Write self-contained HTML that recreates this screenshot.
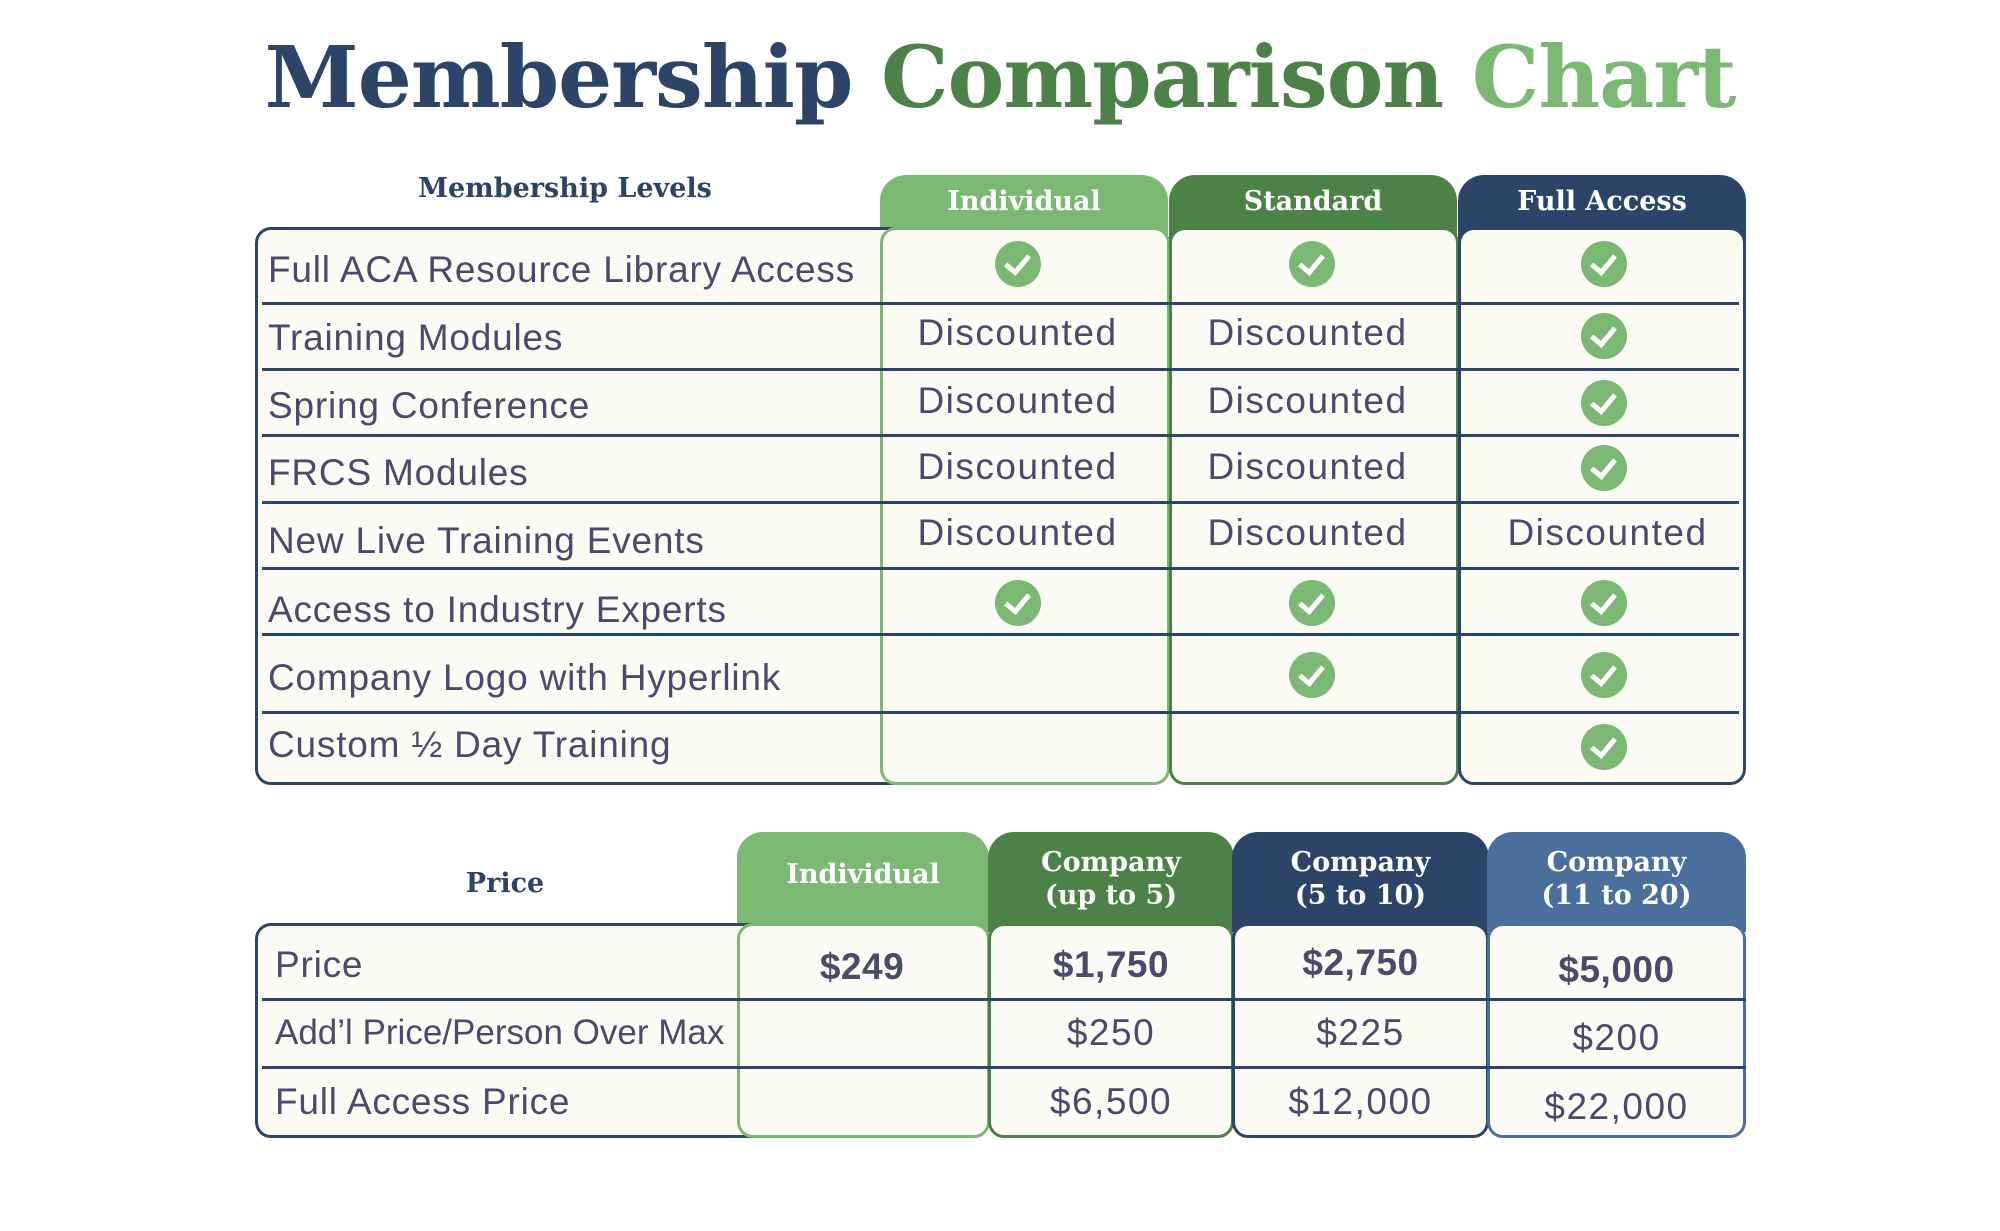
<!DOCTYPE html>
<html><head><meta charset="utf-8"><style>
*{margin:0;padding:0;box-sizing:border-box}
body{width:2000px;height:1231px;background:#fff;position:relative;overflow:hidden;font-family:"Liberation Sans",sans-serif}
.a{position:absolute}
.t{font-family:"DejaVu Serif","Liberation Serif",serif;font-weight:bold}
.h{color:#fff;font-size:27px;text-align:center;font-family:"DejaVu Serif",serif;font-weight:bold;line-height:33px}
.lab{color:#4a4a6a;font-size:37px;left:268px;letter-spacing:0.8px;white-space:nowrap}
.c{color:#4a4a6a;font-size:37px;text-align:center;letter-spacing:1.5px}
.ln{position:absolute;height:3px;background:#2b4468}
.chk{position:absolute;width:46px;height:46px;border-radius:50%;background:#7bb874}
.chk:after{content:"";position:absolute;left:15px;top:9px;width:10px;height:19px;border-right:5px solid #fff;border-bottom:5px solid #fff;transform:rotate(40deg)}
.box{position:absolute;border:3px solid;background:#fcfaf5;border-radius:16px}
.tab{position:absolute;border-radius:26px 26px 0 0}
</style></head><body>
<div class="a t" style="left:0;width:2000px;top:28px;text-align:center;font-size:85px;letter-spacing:-1px;white-space:nowrap"><span style="color:#2b4468">Membership</span> <span style="color:#4c8147">Comparison</span> <span style="color:#7bb874">Chart</span></div>

<!-- table 1 -->
<div class="a t" style="left:330px;width:470px;top:173px;text-align:center;font-size:27px;color:#2b4468">Membership Levels</div>
<div class="tab" style="left:880px;top:175px;width:288px;height:70px;background:#7bb874"></div>
<div class="tab" style="left:1169px;top:175px;width:288px;height:70px;background:#4c8147"></div>
<div class="tab" style="left:1458px;top:175px;width:288px;height:70px;background:#2b4468"></div>
<div class="a h" style="left:880px;width:288px;top:185px">Individual</div>
<div class="a h" style="left:1169px;width:288px;top:185px">Standard</div>
<div class="a h" style="left:1458px;width:288px;top:185px">Full Access</div>
<div class="box" style="left:255px;top:227px;width:700px;height:558px;border-color:#2b4468"></div>
<div class="box" style="left:880px;top:227px;width:290px;height:558px;border-color:#7bb874"></div>
<div class="box" style="left:1169px;top:227px;width:290px;height:558px;border-color:#4c8147"></div>
<div class="box" style="left:1458px;top:227px;width:288px;height:558px;border-color:#2b4468"></div>
<div class="ln" style="left:262px;width:1477px;top:302px"></div>
<div class="ln" style="left:262px;width:1477px;top:368px"></div>
<div class="ln" style="left:262px;width:1477px;top:434px"></div>
<div class="ln" style="left:262px;width:1477px;top:501px"></div>
<div class="ln" style="left:262px;width:1477px;top:567px"></div>
<div class="ln" style="left:262px;width:1477px;top:633px"></div>
<div class="ln" style="left:262px;width:1477px;top:711px"></div>
<div class="a lab" style="top:249px">Full ACA Resource Library Access</div>
<div class="a lab" style="top:317px">Training Modules</div>
<div class="a lab" style="top:385px">Spring Conference</div>
<div class="a lab" style="top:452px">FRCS Modules</div>
<div class="a lab" style="top:520px">New Live Training Events</div>
<div class="a lab" style="top:589px">Access to Industry Experts</div>
<div class="a lab" style="top:657px">Company Logo with Hyperlink</div>
<div class="a lab" style="top:724px">Custom ½ Day Training</div>
<div class="chk" style="left:995px;top:241px"></div>
<div class="chk" style="left:1289px;top:241px"></div>
<div class="chk" style="left:1581px;top:241px"></div>
<div class="chk" style="left:1581px;top:313px"></div>
<div class="chk" style="left:1581px;top:380px"></div>
<div class="chk" style="left:1581px;top:445px"></div>
<div class="chk" style="left:995px;top:580px"></div>
<div class="chk" style="left:1289px;top:580px"></div>
<div class="chk" style="left:1581px;top:580px"></div>
<div class="chk" style="left:1289px;top:652px"></div>
<div class="chk" style="left:1581px;top:652px"></div>
<div class="chk" style="left:1581px;top:724px"></div>
<div class="a c" style="left:870px;width:295px;top:312px">Discounted</div>
<div class="a c" style="left:1160px;width:295px;top:312px">Discounted</div>
<div class="a c" style="left:870px;width:295px;top:380px">Discounted</div>
<div class="a c" style="left:1160px;width:295px;top:380px">Discounted</div>
<div class="a c" style="left:870px;width:295px;top:446px">Discounted</div>
<div class="a c" style="left:1160px;width:295px;top:446px">Discounted</div>
<div class="a c" style="left:870px;width:295px;top:512px">Discounted</div>
<div class="a c" style="left:1160px;width:295px;top:512px">Discounted</div>
<div class="a c" style="left:1460px;width:295px;top:512px">Discounted</div>

<!-- table 2 -->
<div class="a t" style="left:255px;width:500px;top:868px;text-align:center;font-size:27px;color:#2b4468">Price</div>
<div class="tab" style="left:737px;top:832px;width:252px;height:100px;background:#7bb874"></div>
<div class="tab" style="left:988px;top:832px;width:246px;height:100px;background:#4c8147"></div>
<div class="tab" style="left:1232px;top:832px;width:257px;height:100px;background:#2b4468"></div>
<div class="tab" style="left:1487px;top:832px;width:259px;height:100px;background:#4b6f9c"></div>
<div class="a h" style="left:737px;width:252px;top:858px">Individual</div>
<div class="a h" style="left:988px;width:246px;top:846px">Company<br>(up to 5)</div>
<div class="a h" style="left:1232px;width:257px;top:846px">Company<br>(5 to 10)</div>
<div class="a h" style="left:1487px;width:259px;top:846px">Company<br>(11 to 20)</div>
<div class="box" style="left:255px;top:923px;width:560px;height:215px;border-color:#2b4468"></div>
<div class="box" style="left:737px;top:923px;width:253px;height:215px;border-color:#7bb874"></div>
<div class="box" style="left:988px;top:923px;width:246px;height:215px;border-color:#4c8147"></div>
<div class="box" style="left:1232px;top:923px;width:257px;height:215px;border-color:#2b4468"></div>
<div class="box" style="left:1487px;top:923px;width:259px;height:215px;border-color:#4b6f9c"></div>
<div class="ln" style="left:262px;width:1484px;top:998px"></div>
<div class="ln" style="left:262px;width:1484px;top:1066px"></div>
<div class="a lab" style="left:275px;top:944px">Price</div>
<div class="a lab" style="left:275px;top:1013px;letter-spacing:0;font-size:35px">Add’l Price/Person Over Max</div>
<div class="a lab" style="left:275px;top:1081px">Full Access Price</div>
<div class="a c" style="left:737px;width:250px;top:946px;font-weight:bold;letter-spacing:0.5px">$249</div>
<div class="a c" style="left:988px;width:246px;top:944px;font-weight:bold;letter-spacing:0.5px">$1,750</div>
<div class="a c" style="left:1232px;width:257px;top:942px;font-weight:bold;letter-spacing:0.5px">$2,750</div>
<div class="a c" style="left:1487px;width:259px;top:949px;font-weight:bold;letter-spacing:0.5px">$5,000</div>
<div class="a c" style="left:988px;width:246px;top:1012px">$250</div>
<div class="a c" style="left:1232px;width:257px;top:1012px">$225</div>
<div class="a c" style="left:1487px;width:259px;top:1017px">$200</div>
<div class="a c" style="left:988px;width:246px;top:1081px">$6,500</div>
<div class="a c" style="left:1232px;width:257px;top:1081px">$12,000</div>
<div class="a c" style="left:1487px;width:259px;top:1086px">$22,000</div>
</body></html>
